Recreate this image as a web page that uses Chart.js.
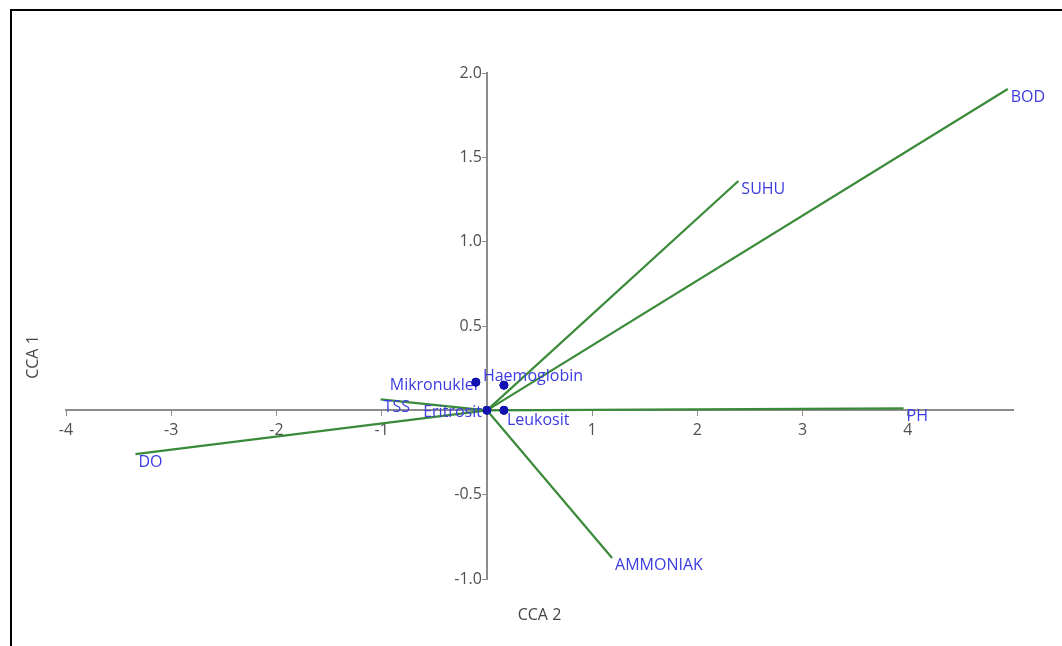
<!DOCTYPE html>
<html>
<head>
<meta charset="utf-8">
<script src="https://cdn.jsdelivr.net/npm/chart.js@4/dist/chart.umd.min.js"></script>
<style>
  html, body { margin: 0; padding: 0; background: #fff; }
  #wrap { width: 1062px; height: 646px; position: relative; }
</style>
</head>
<body>
<div id="wrap"><canvas id="myChart"></canvas></div>
<script>
'use strict';

// environment vectors (arrows from origin)
let vectorNames = ['BOD', 'SUHU', 'PH', 'AMMONIAK', 'DO', 'TSS'];
let vectorX = [4.95, 2.39, 3.96, 1.19, -3.34, -1.01];
let vectorY = [1.905, 1.36, 0.012, -0.875, -0.26, 0.065];

// response variables (points)
let pointNames = ['Mikronuklei', 'Haemoglobin', 'Eritrosit', 'Leukosit'];
let pointX = [-0.105, 0.162, 0, 0.162];
let pointY = [0.167, 0.149, 0, 0];

let xTicks = [-4, -3, -2, -1, 1, 2, 3, 4];
let yTicks = ['-1.0', '-0.5', '0.5', '1.0', '1.5', '2.0'];

// label placement: [align, dx, dy]
let pointLabelPlace = [
  ['right', 2, 3],
  ['left', -21, -9],
  ['right', -5, 2],
  ['left', 3, 10]
];

let labelFont = '16px "Open Sans"';
let labelColor = '#3c3ce2';
let lineColor = '#3a8a3a';
let tickColor = '#505050';

let datasets = [];
for (let i = 0; i < vectorNames.length; i++) {
  datasets.push({
    label: vectorNames[i],
    data: [{x: 0, y: 0}, {x: vectorX[i], y: vectorY[i]}],
    showLine: true,
    borderColor: lineColor,
    borderWidth: 2.2,
    pointRadius: 0
  });
}
let pts = [];
for (let i = 0; i < pointNames.length; i++) {
  pts.push({x: pointX[i], y: pointY[i]});
}
datasets.push({
  label: 'points',
  data: pts,
  pointRadius: 4,
  pointBackgroundColor: '#1212b0',
  pointBorderColor: '#1212b0',
  showLine: false
});

let frame = {
  id: 'frame',
  beforeDraw(chart) {
    let ctx = chart.ctx;
    ctx.save();
    ctx.fillStyle = '#fff';
    ctx.fillRect(0, 0, chart.width, chart.height);
    ctx.strokeStyle = '#000';
    ctx.lineWidth = 2;
    ctx.strokeRect(11, 10, chart.width + 20, chart.height + 20);
    ctx.restore();
  }
};

let labels = {
  id: 'labels',
  afterDatasetsDraw(chart) {
    let ctx = chart.ctx;
    let xs = chart.scales.x;
    let ys = chart.scales.y;
    let area = chart.chartArea;
    ctx.save();

    // y tick labels, left of the centred axis
    let x0 = xs.getPixelForValue(0);
    ctx.font = '16px "Open Sans"';
    ctx.fillStyle = tickColor;
    ctx.textAlign = 'right';
    ctx.textBaseline = 'middle';
    yTicks.forEach(function(t) {
      ctx.fillText(t, x0 - 5, ys.getPixelForValue(parseFloat(t)));
    });

    ctx.font = labelFont;
    ctx.fillStyle = labelColor;
    ctx.textAlign = 'left';
    for (let i = 0; i < vectorNames.length; i++) {
      let px = xs.getPixelForValue(vectorX[i]);
      let py = ys.getPixelForValue(vectorY[i]);
      ctx.fillText(vectorNames[i], px + 3, py + 8);
    }
    for (let i = 0; i < pointNames.length; i++) {
      let px = xs.getPixelForValue(pointX[i]);
      let py = ys.getPixelForValue(pointY[i]);
      let p = pointLabelPlace[i];
      ctx.textAlign = p[0];
      ctx.fillText(pointNames[i], px + p[1], py + p[2]);
    }
    // redraw points over labels
    let meta = chart.getDatasetMeta(datasets.length - 1);
    meta.data.forEach(function(el) { el.draw(ctx, area); });

    // axis titles
    ctx.fillStyle = '#444';
    ctx.font = '16px "Open Sans"';
    ctx.textAlign = 'center';
    ctx.fillText('CCA 2', (area.left + area.right) / 2, area.bottom + 36);
    ctx.translate(33, (area.top + area.bottom) / 2 + 31);
    ctx.rotate(-Math.PI / 2);
    ctx.fillText('CCA 1', 0, 0);
    ctx.restore();
  }
};

let ctx = document.getElementById('myChart').getContext('2d');
let myChart = new Chart(ctx, {
  type: 'scatter',
  data: { datasets: datasets },
  plugins: [frame, labels],
  options: {
    responsive: true,
    maintainAspectRatio: false,
    animation: false,
    layout: { padding: { left: 66, right: 49, top: 73, bottom: 67 } },
    plugins: {
      legend: { display: false },
      tooltip: { enabled: false }
    },
    scales: {
      x: {
        type: 'linear',
        position: { y: 0 },
        min: -4,
        max: 5,
        afterBuildTicks(axis) {
          axis.ticks = xTicks.map(function(v) { return {value: v}; });
        },
        grid: {
          display: true,
          drawOnChartArea: false,
          drawTicks: true,
          tickLength: 5,
          color: '#8c8c8c'
        },
        border: { display: true, color: '#8c8c8c', width: 2 },
        ticks: {
          color: tickColor,
          font: { family: 'Open Sans', size: 16 },
          padding: 6,
          maxRotation: 0,
          autoSkip: false,
          callback: function(v) { return String(v); }
        }
      },
      y: {
        type: 'linear',
        position: { x: 0 },
        min: -1,
        max: 2,
        afterBuildTicks(axis) {
          axis.ticks = yTicks.map(function(v) { return {value: parseFloat(v)}; });
        },
        grid: {
          display: true,
          drawOnChartArea: false,
          drawTicks: true,
          tickLength: 4,
          color: '#8c8c8c'
        },
        border: { display: true, color: '#8c8c8c', width: 2 },
        ticks: { display: false }
      }
    }
  }
});
</script>
</body>
</html>
